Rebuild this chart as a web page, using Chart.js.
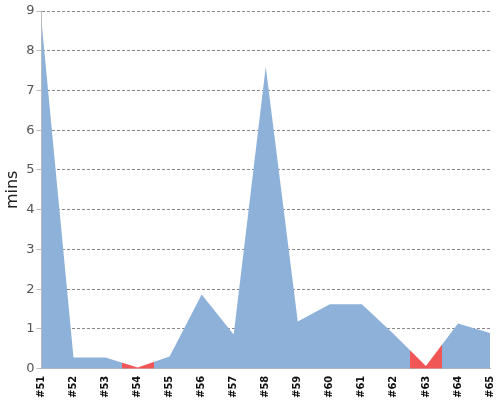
<!DOCTYPE html>
<html>
<head>
<meta charset="utf-8">
<script src="https://cdn.jsdelivr.net/npm/chart.js@4/dist/chart.umd.min.js"></script>
<style>
  html, body { margin: 0; padding: 0; background: #fff; }
  #wrap { width: 500px; height: 400px; }
</style>
</head>
<body>
<div id="wrap"><canvas id="MyChart"></canvas></div>
<script>
let builds = ['#51', '#52', '#53', '#54', '#55', '#56', '#57', '#58', '#59', '#60', '#61', '#62', '#63', '#64', '#65'];
let durations = [8.75, 0.28, 0.28, 0.03, 0.31, 1.87, 0.86, 7.6, 1.19, 1.62, 1.62, 0.87, 0.07, 1.14, 0.9];
let failed = ['#54', '#63'];
let yTicks = [0, 1, 2, 3, 4, 5, 6, 7, 8, 9];

const okColor = '#8eb1da';
const badColor = '#f05656';

// hard-stop gradient so the fill turns red half way to each failed build
function areaFill(ctx) {
  let chart = ctx.chart;
  let area = chart.chartArea;
  let x = chart.scales.x;
  if (!area || !x) return okColor;
  let g = chart.ctx.createLinearGradient(area.left, 0, area.right, 0);
  let w = area.right - area.left;
  g.addColorStop(0, okColor);
  failed.forEach(function (b) {
    let i = builds.indexOf(b);
    let a = Math.max(0, Math.min(1, (x.getPixelForValue(i - 0.5) - area.left) / w));
    let c = Math.max(0, Math.min(1, (x.getPixelForValue(i + 0.5) - area.left) / w));
    g.addColorStop(a, okColor);
    g.addColorStop(a, badColor);
    g.addColorStop(c, badColor);
    g.addColorStop(c, okColor);
  });
  g.addColorStop(1, okColor);
  return g;
}

Chart.defaults.font.family = 'DejaVu Sans';
Chart.defaults.color = '#555';

let data = {
  labels: builds,
  datasets: [{
    label: 'duration',
    data: durations,
    fill: 'origin',
    backgroundColor: areaFill,
    borderWidth: 0,
    pointRadius: 0,
    tension: 0
  }]
};

let options = {
  responsive: true,
  maintainAspectRatio: false,
  animation: false,
  layout: { padding: { top: 11, right: 10, left: 3, bottom: 0 } },
  plugins: {
    legend: { display: false },
    tooltip: { enabled: false }
  },
  scales: {
    x: {
      offset: false,
      afterFit: function (axis) {
        axis.paddingLeft = 0;
        axis.paddingRight = 0;
      },
      grid: { display: false, drawOnChartArea: false, drawTicks: true, tickLength: 5, color: '#bbb' },
      border: { color: '#bbb', width: 1 },
      ticks: {
        autoSkip: false,
        maxRotation: 90,
        minRotation: 90,
        color: '#111',
        font: { size: 10, weight: 'bold' },
        padding: 2
      }
    },
    y: {
      z: 1,
      min: 0,
      max: 9,
      afterBuildTicks: function (axis) {
        axis.ticks = yTicks.map(function (v) { return { value: v }; });
      },
      afterFit: function (axis) {
        axis.paddingTop = 0;
      },
      grid: { color: '#888', tickLength: 5, tickColor: '#bbb', drawOnChartArea: true },
      border: { color: '#bbb', width: 1, dash: [3, 2] },
      ticks: {
        color: '#555',
        font: { size: 13 },
        padding: 2
      },
      title: {
        display: true,
        text: 'mins',
        color: '#222',
        font: { size: 16 },
        padding: { top: 0, bottom: 2 }
      }
    }
  }
};

let myChart = new Chart(
  document.getElementById('MyChart'),
  { type: 'line', data: data, options: options }
);
</script>
</body>
</html>
